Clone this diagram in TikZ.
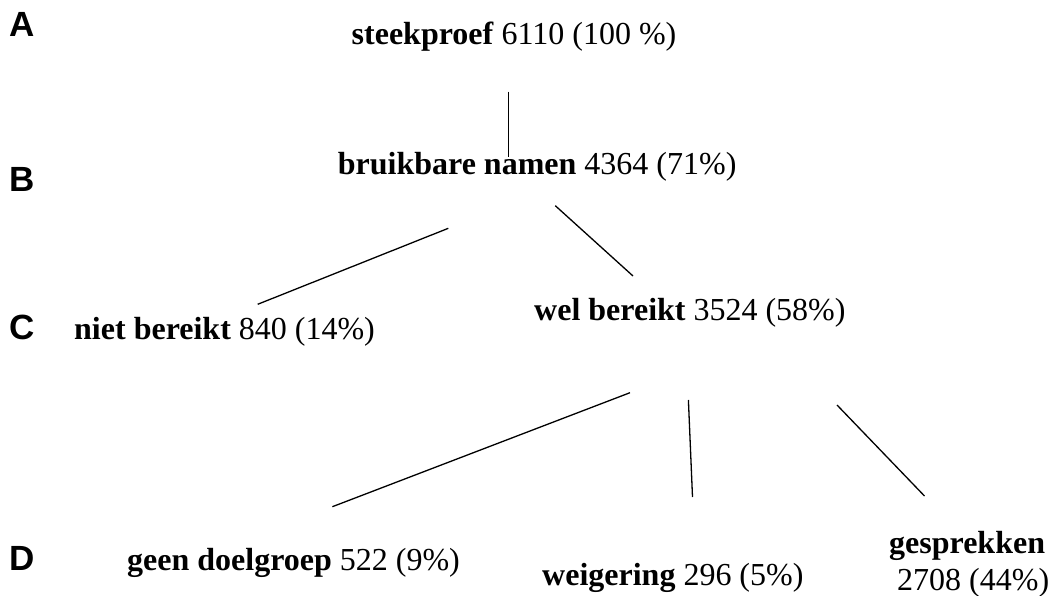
\documentclass[tikz,border=0pt]{standalone}
\usepackage{fontspec}
\setmainfont{Liberation Serif}
\newfontfamily\lettersf{Liberation Sans}
\usetikzlibrary{positioning}

\tikzset{
  lbl/.style={anchor=base west,inner sep=0pt,font=\fontsize{32}{37}\selectfont},
  rowlbl/.style={anchor=base west,inner sep=0pt,font=\fontsize{35}{40}\selectfont\lettersf\bfseries},
  conn/.style={line width=1.3pt}
}

\begin{document}
\begin{tikzpicture}[x=1pt,y=-1pt]
  \useasboundingbox (0,0) rectangle (1050,596);
  % row letters
  \node[rowlbl] (la) at (9,37) {A};
  \node[rowlbl] (lb) at (9,192) {B};
  \node[rowlbl] (lc) at (9,339) {C};
  \node[rowlbl] (ld) at (9,570) {D};
  % counts
  \node[lbl] (steek) at (351.5,45) {\textbf{steekproef} 6110 (100 \%)};
  \node[lbl] (bruik) at (337.7,175) {\textbf{bruikbare namen} 4364 (71\%)};
  \node[lbl] (niet) at (74,339) {\textbf{niet bereikt} 840 (14\%)};
  \node[lbl] (wel) at (534,320) {\textbf{wel bereikt} 3524 (58\%)};
  \node[lbl] (geen) at (127,570) {\textbf{geen doelgroep} 522 (9\%)};
  \node[lbl] (weig) at (542,585) {\textbf{weigering} 296 (5\%)};
  \node[lbl,align=left] (gespr) at (889,590) {\textbf{gesprekken}\\~2708 (44\%)};
  % line ends
  \coordinate (c1a) at (508.7,91.7);
  \coordinate (c1b) at (508.7,156.7);
  \coordinate (c2a) at (448.3,228.3);
  \coordinate (c2b) at (257.7,304.3);
  \coordinate (c3a) at (555.3,205.7);
  \coordinate (c3b) at (633,276);
  \coordinate (c4a) at (630,392.7);
  \coordinate (c4b) at (332.4,506.7);
  \coordinate (c5a) at (688.4,400);
  \coordinate (c5b) at (692.5,497);
  \coordinate (c6a) at (837,405);
  \coordinate (c6b) at (924.5,496);
  \draw[conn] (c1a) -- (c1b);
  \draw[conn] (c2a) -- (c2b);
  \draw[conn] (c3a) -- (c3b);
  \draw[conn] (c4a) -- (c4b);
  \draw[conn] (c5a) -- (c5b);
  \draw[conn] (c6a) -- (c6b);
\end{tikzpicture}
\end{document}
